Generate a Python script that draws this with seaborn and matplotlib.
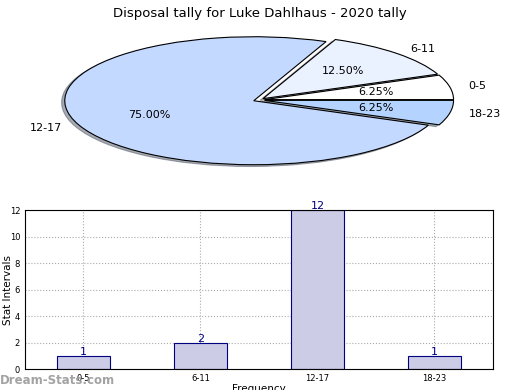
import seaborn as sns
import matplotlib.pyplot as plt

sns.set_style("white")
plt.rcParams['font.family'] = ['DejaVu Sans']
plt.rcParams['text.color'] = 'black'
plt.rcParams['axes.labelcolor'] = 'black'
plt.rcParams['xtick.color'] = 'black'
plt.rcParams['ytick.color'] = 'black'

# pie data (counter-clockwise from 3 o'clock)
pie_labels = ["0-5", "6-11", "12-17", "18-23"]
pie_counts = [1, 2, 12, 1]
pie_colors = ["#ffffff", "#eaf1ff", "#c4d9ff", "#b4d4ff"]

# bar data
bar_cats = ["0-5", "6-11", "12-17", "18-23"]
bar_vals = [1, 2, 12, 1]

fig = plt.figure(figsize=(5.2, 3.9), dpi=100)

# Pie (squashed into an ellipse)
ax1 = fig.add_axes([0.0619, 0.5467, 0.8723, 0.3938])
wedges, texts, autotexts = ax1.pie(
    pie_counts, labels=pie_labels, colors=pie_colors, autopct="%.2f%%",
    startangle=0, explode=[0.03] * 4,
    shadow={"ox": -0.012, "oy": -0.02, "shade": 0.6},
    wedgeprops={"edgecolor": "black", "linewidth": 0.8},
    textprops={"fontsize": 8, "color": "black"},
)
ax1.set_aspect("auto")
ax1.set_xlim(-1.2, 1.2)
ax1.set_ylim(-1.2, 1.2)
ax1.axis("off")
fig.text(0.5, 0.965, "Disposal tally for Luke Dahlhaus - 2020 tally",
         ha="center", va="center", fontsize=9.5)

# Bars
ax2 = fig.add_axes([0.048, 0.0538, 0.9, 0.4077])
sns.barplot(x=bar_cats, y=bar_vals, ax=ax2, color="#ccccE6", saturation=1,
            width=0.45, edgecolor="navy", linewidth=0.8, zorder=2)
ax2.set_xlim(-0.5, 3.5)
ax2.set_ylim(0, 12)
ax2.set_yticks(range(0, 13, 2))
ax2.grid(True, linestyle=":", color="#aaaaaa", linewidth=0.8, zorder=0)
ax2.set_axisbelow(True)
for c in ax2.containers:
    ax2.bar_label(c, color="navy", fontsize=8, padding=-1)
ax2.tick_params(labelsize=6, length=2, direction="in")
ax2.set_ylabel("Stat Intervals", fontsize=7.5)
ax2.yaxis.set_label_coords(-0.026, 0.5)
ax2.set_xlabel("Frequency", fontsize=7.5)
ax2.xaxis.set_label_coords(0.5, -0.095)
for s in ax2.spines.values():
    s.set_color("black")
    s.set_linewidth(0.8)

fig.text(0.0, 0.025, "Dream-Stats.com", color="#999999", fontsize=8.5,
         fontweight="bold", ha="left", va="center", alpha=0.9)

fig.savefig("out.png", dpi=100)
